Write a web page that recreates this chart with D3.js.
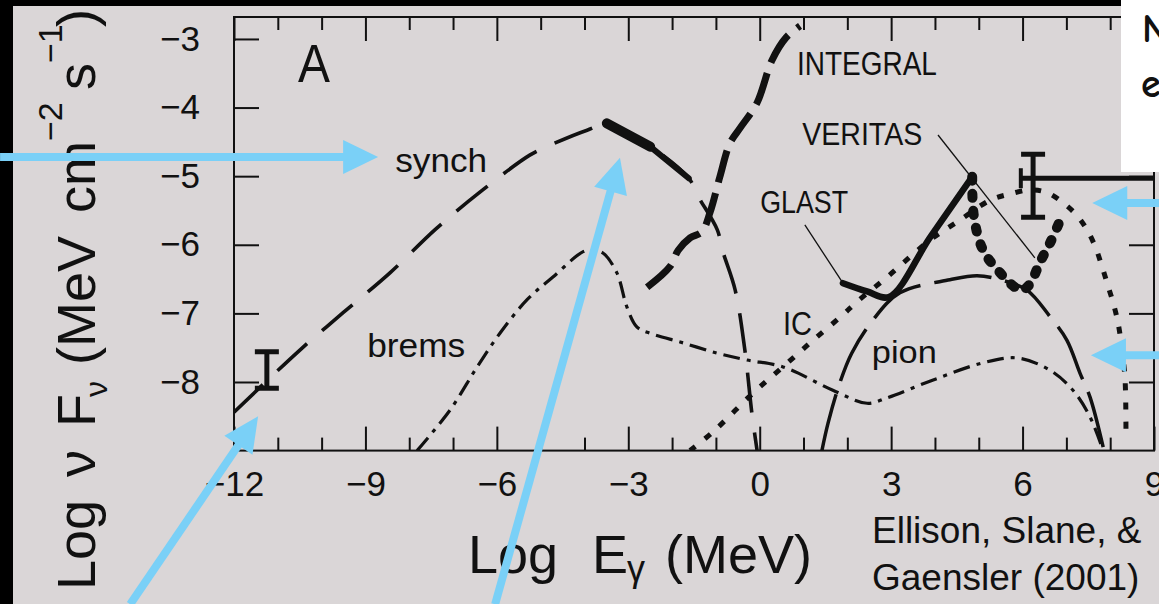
<!DOCTYPE html>
<html>
<head>
<meta charset="utf-8">
<script src="https://cdn.jsdelivr.net/npm/d3@7"></script>
<style>
  html, body { margin: 0; padding: 0; background: #dad6d7; overflow: hidden; }
  svg { display: block; }
  text { font-family: "Liberation Sans", Arial, Helvetica, sans-serif; fill: #111; }
</style>
</head>
<body>
<svg id="chart" width="1159" height="604"></svg>
<script>
// Broadband photon spectrum: Log E_gamma (MeV) against Log nu F_nu (MeV cm^-2 s^-1)

// --- model curves [log E, log nuFnu] ---
const synchCurve = [[-12.0,-8.44],[-10.54,-7.56],[-9.51,-6.99],[-8.44,-6.41],[-7.41,-5.78],[-6.38,-5.23],
  [-5.24,-4.69],[-4.79,-4.55],[-3.94,-4.33],[-3.49,-4.25],[-2.5,-4.57],[-1.62,-5.03],[-1.40,-5.30],
  [-0.97,-5.78],[-0.84,-6.10],[-0.56,-6.66],[-0.34,-7.53],[-0.18,-8.45],[-0.06,-9.0]];
const bremsCurve = [[-7.82,-9.0],[-7.07,-8.41],[-6.45,-7.78],[-5.93,-7.29],[-5.31,-6.80],[-4.72,-6.47],
  [-4.03,-6.10],[-3.83,-6.08],[-3.58,-6.12],[-3.26,-6.41],[-3.03,-6.91],[-2.80,-7.20],[-2.50,-7.29],
  [-1.75,-7.43],[-0.97,-7.58],[-0.29,-7.68],[0.53,-7.78],[1.67,-8.12],[2.45,-8.31],[2.91,-8.23],
  [3.96,-7.97],[5.10,-7.72],[5.88,-7.65],[6.63,-7.83],[7.15,-8.12],[7.54,-8.51],[7.84,-9.0]];
const icCurve = [[-1.59,-9.0],[-1.07,-8.73],[-0.15,-8.16],[0.53,-7.78],[1.22,-7.39],[1.90,-7.02],
  [2.22,-6.83],[2.91,-6.47],[3.89,-5.93],[4.57,-5.64],[5.26,-5.35],[5.71,-5.26],[6.17,-5.20],
  [6.56,-5.24],[6.93,-5.39],[7.25,-5.58],[7.47,-5.78],[7.66,-6.03],[7.81,-6.31],[7.95,-6.60],
  [8.07,-6.85],[8.18,-7.14],[8.27,-7.53],[8.34,-7.97],[8.36,-8.85]];
const pionCurve = [[1.42,-9.0],[1.56,-8.60],[1.83,-8.01],[2.10,-7.58],[2.58,-7.10],[3.20,-6.70],
  [4.34,-6.51],[4.96,-6.45],[5.49,-6.51],[6.10,-6.66],[6.63,-7.05],[7.01,-7.39],[7.31,-7.87],
  [7.54,-8.22],[7.84,-8.95]];

// --- instrument sensitivities ---
const integralSens = [[-2.57,-6.62],[-2.05,-6.32],[-1.86,-6.08],[-1.59,-5.90],[-1.32,-5.81],[-1.13,-5.52],
  [-0.91,-5.01],[-0.68,-4.52],[-0.45,-4.30],[-0.06,-3.93],[0.28,-3.31],[0.60,-2.98],[0.92,-2.81]];
const glastSens = [[1.90,-6.56],[2.45,-6.68],[2.95,-6.76],[3.89,-5.89],[4.85,-5.01]];
const veritasSens = [[4.85,-5.01],[4.89,-5.59],[5.10,-6.08],[5.49,-6.41],[5.83,-6.62],[5.99,-6.66],
  [6.17,-6.57],[6.40,-6.25],[6.63,-5.97],[6.86,-5.64]];

// --- observations ---
const xrayData = [[-3.49,-4.23],[-2.5,-4.57],[-1.62,-5.03]];
const radioPoint = [-11.25, -8.09, -7.56];   // log E, low, high
const tevPoint = [6.24, -5.60, -4.68];       // log E, low, high
const tevLimit = [5.96, 9.0, -5.03];         // from log E, to log E, level

// --- axes ---
const xMajorTicks = [-12, -9, -6, -3, 0, 3, 6, 9];
const xMinorTicks = [-11, -10, -8, -7, -5, -4, -2, -1, 1, 2, 4, 5, 7, 8];
const yTicks = [-8, -7, -6, -5, -4, -3];

const svg = d3.select("#chart");
const x = d3.scaleLinear().domain([-12, 9]).range([234, 1154]);
const y = d3.scaleLinear().domain([-9, -2.68]).range([450.6, 17]);
const [xl, xr] = x.range();
const [yb, yt] = y.range();
const INK = "#111";

// dark page margins
svg.append("rect").attr("x", 0).attr("y", 0).attr("width", 13).attr("height", 604).attr("fill", "#000");
svg.append("rect").attr("x", 0).attr("y", 0).attr("width", 1121).attr("height", 6).attr("fill", "#000");

// clip for the plotting area
svg.append("defs").append("clipPath").attr("id", "plotClip")
  .append("rect").attr("x", xl).attr("y", yt).attr("width", xr - xl).attr("height", yb - yt);

// ticks
function styleAxis(g) {
  g.select(".domain").remove();
  g.selectAll(".tick line").attr("stroke", INK).attr("stroke-width", 2);
  g.attr("font-family", null).attr("font-size", null);
  g.selectAll("text").attr("font-size", 35).attr("fill", INK);
}
svg.append("g").attr("transform", `translate(0,${yb})`)
  .call(d3.axisBottom(x).tickValues(xMajorTicks).tickSizeInner(-24).tickSizeOuter(0).tickPadding(21).tickFormat(d3.format("d")))
  .call(styleAxis);
svg.append("g").attr("transform", `translate(0,${yb})`)
  .call(d3.axisBottom(x).tickValues(xMinorTicks).tickSizeInner(-13).tickSizeOuter(0).tickFormat(""))
  .call(styleAxis);
svg.append("g").attr("transform", `translate(0,${yt})`)
  .call(d3.axisTop(x).tickValues(xMajorTicks).tickSizeInner(-24).tickSizeOuter(0).tickFormat(""))
  .call(styleAxis);
svg.append("g").attr("transform", `translate(0,${yt})`)
  .call(d3.axisTop(x).tickValues(xMinorTicks).tickSizeInner(-13).tickSizeOuter(0).tickFormat(""))
  .call(styleAxis);
svg.append("g").attr("transform", `translate(${xl},0)`)
  .call(d3.axisLeft(y).tickValues(yTicks).tickSizeInner(-25).tickSizeOuter(0).tickPadding(34).tickFormat(d3.format("d")))
  .call(styleAxis);
svg.append("g").attr("transform", `translate(${xr},0)`)
  .call(d3.axisRight(y).tickValues(yTicks).tickSizeInner(-25).tickSizeOuter(0).tickFormat(""))
  .call(styleAxis);

// frame
svg.append("rect").attr("x", xl).attr("y", yt).attr("width", xr - xl).attr("height", yb - yt)
  .attr("fill", "none").attr("stroke", INK).attr("stroke-width", 2);

// curves
const plot = svg.append("g").attr("clip-path", "url(#plotClip)");
const smooth = d3.line().x(d => x(d[0])).y(d => y(d[1])).curve(d3.curveCatmullRom.alpha(0.5));

function drawCurve(data, width, dash, cap) {
  plot.append("path").attr("d", smooth(data)).attr("fill", "none").attr("stroke", INK)
    .attr("stroke-width", width).attr("stroke-dasharray", dash).attr("stroke-linecap", cap || "butt")
    .attr("stroke-linejoin", "round");
}
drawCurve(synchCurve, 3.6, "40,20");
drawCurve(bremsCurve, 3.2, "17,7,4,7");
drawCurve(icCurve, 5, "7,12");
drawCurve(pionCurve, 3.5, "58,14");
drawCurve(integralSens, 7, "33,11");
drawCurve(glastSens, 6.5, null, "round");
drawCurve(veritasSens, 10, "4,13", "round");

// X-ray spectrum: thick tapering segments
xrayData.slice(1).forEach((d, i) => {
  const p = xrayData[i];
  plot.append("line").attr("x1", x(p[0])).attr("y1", y(p[1])).attr("x2", x(d[0])).attr("y2", y(d[1]))
    .attr("stroke", INK).attr("stroke-width", 10 - 4 * i).attr("stroke-linecap", "round");
});

// error bars
function errorBar(pt) {
  const cx = x(pt[0]);
  plot.append("line").attr("x1", cx).attr("x2", cx).attr("y1", y(pt[1])).attr("y2", y(pt[2]))
    .attr("stroke", INK).attr("stroke-width", 5);
  [pt[1], pt[2]].forEach(v => {
    plot.append("line").attr("x1", cx - 12).attr("x2", cx + 12).attr("y1", y(v)).attr("y2", y(v))
      .attr("stroke", INK).attr("stroke-width", 5);
  });
}
errorBar(radioPoint);
errorBar(tevPoint);
svg.append("line").attr("x1", x(tevLimit[0])).attr("x2", x(tevLimit[1])).attr("y1", y(tevLimit[2])).attr("y2", y(tevLimit[2]))
  .attr("stroke", INK).attr("stroke-width", 5);
svg.append("line").attr("x1", x(tevLimit[0])).attr("x2", x(tevLimit[0])).attr("y1", y(tevLimit[2]) - 10).attr("y2", y(tevLimit[2]) + 10)
  .attr("stroke", INK).attr("stroke-width", 4);

// leader lines for instrument labels
const leaders = [[[1.03, -5.71], [1.90, -6.56]], [[4.07, -4.40], [6.28, -6.19]]];
leaders.forEach(l => {
  svg.append("line").attr("x1", x(l[0][0])).attr("y1", y(l[0][1])).attr("x2", x(l[1][0])).attr("y2", y(l[1][1]))
    .attr("stroke", INK).attr("stroke-width", 1.3);
});

// in-plot labels: text, anchor [log E, log nuFnu], font size, rendered width
const labels = [
  ["A", [-10.54, -3.63], 54, 32],
  ["synch", [-8.32, -4.94], 33, 92],
  ["brems", [-8.96, -7.64], 33, 98],
  ["INTEGRAL", [0.85, -3.52], 34, 140],
  ["VERITAS", [0.97, -4.55], 32, 120],
  ["GLAST", [0.01, -5.54], 32, 88],
  ["IC", [0.53, -7.31], 34, 29],
  ["pion", [2.56, -7.72], 32, 65]
];
labels.forEach(([t, p, fs, w]) => {
  svg.append("text").attr("x", x(p[0])).attr("y", y(p[1])).attr("font-size", fs)
    .attr("textLength", w).attr("lengthAdjust", "spacingAndGlyphs").text(t);
});

// axis titles
const xTitle = svg.append("text").attr("y", 573).attr("font-size", 54);
xTitle.append("tspan").attr("x", 468).text("Log");
xTitle.append("tspan").attr("x", 592).text("E");
xTitle.append("tspan").attr("x", 627).attr("dy", 8).attr("font-size", 36).text("γ");
xTitle.append("tspan").attr("x", 665).attr("dy", -8).text("(MeV)");

const yTitle = svg.append("text").attr("transform", "translate(95,590) rotate(-90)").attr("font-size", 54);
yTitle.append("tspan").attr("x", 0).text("Log");
yTitle.append("tspan").attr("x", 113).text("ν");
yTitle.append("tspan").attr("x", 163).text("F");
yTitle.append("tspan").attr("x", 193).attr("dy", 12).attr("font-size", 32).text("ν");
yTitle.append("tspan").attr("x", 225).attr("dy", -12).text("(MeV");
yTitle.append("tspan").attr("x", 377).text("cm");
yTitle.append("tspan").attr("x", 449).attr("dy", -33).attr("font-size", 34).text("−2");
yTitle.append("tspan").attr("x", 500).attr("dy", 33).text("s");
yTitle.append("tspan").attr("x", 527).attr("dy", -33).attr("font-size", 34).text("−1");
yTitle.append("tspan").attr("x", 563).attr("dy", 33).text(")");

// note box, top right
svg.append("rect").attr("x", 1121).attr("y", 0).attr("width", 38).attr("height", 172).attr("fill", "#fff");
svg.append("text").attr("x", 1142).attr("y", 42).attr("font-size", 40).attr("font-weight", "bold")
  .style("font-family", '"Comic Sans MS", "Comic Neue", "DejaVu Sans", sans-serif').text("N");
svg.append("text").attr("x", 1141).attr("y", 97).attr("font-size", 40).attr("font-weight", "bold")
  .style("font-family", '"Comic Sans MS", "Comic Neue", "DejaVu Sans", sans-serif').text("e");

// reference credit
svg.append("text").attr("x", 872).attr("y", 543).attr("font-size", 37).text("Ellison, Slane, &");
svg.append("text").attr("x", 872).attr("y", 590).attr("font-size", 37).text("Gaensler (2001)");

// pointer arrows [from, to] in data units
const arrowFrom = [[-17.34, -4.72], [-14.37, -11.24], [-6.04, -11.24], [9.12, -5.39], [9.12, -7.61]];
const arrowTo = [[-8.71, -4.72], [-11.45, -8.50], [-3.19, -4.73], [7.59, -5.39], [7.56, -7.61]];
const ARROW = "#7ad0f7";
arrowFrom.forEach((f, i) => {
  const t = arrowTo[i];
  const x1 = x(f[0]), y1 = y(f[1]), x2 = x(t[0]), y2 = y(t[1]);
  const L = Math.hypot(x2 - x1, y2 - y1), ux = (x2 - x1) / L, uy = (y2 - y1) / L;
  const head = 35, half = 17;
  const bx = x2 - ux * head, by = y2 - uy * head;
  svg.append("line").attr("x1", x1).attr("y1", y1).attr("x2", bx + ux * 2).attr("y2", by + uy * 2)
    .attr("stroke", ARROW).attr("stroke-width", 8);
  svg.append("path").attr("d", `M${x2},${y2}L${bx - uy * half},${by + ux * half}L${bx + uy * half},${by - ux * half}Z`)
    .attr("fill", ARROW);
});
</script>
</body>
</html>
